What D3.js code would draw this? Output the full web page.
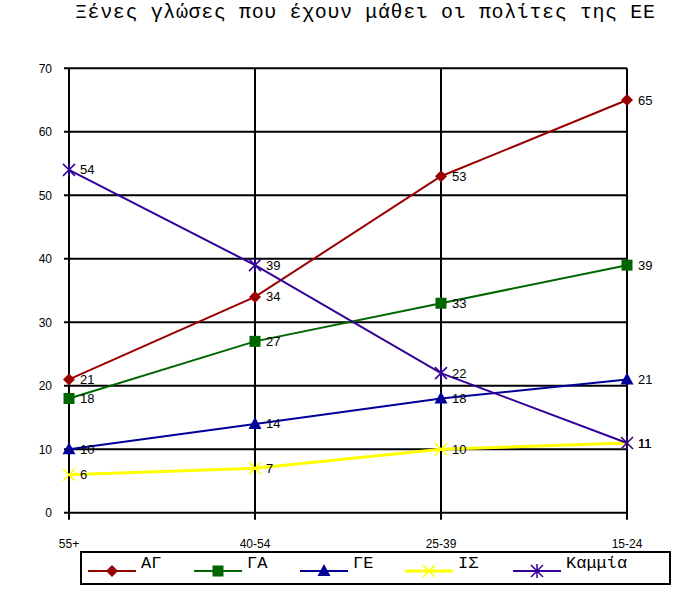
<!DOCTYPE html>
<html><head><meta charset="utf-8">
<script src="https://cdn.jsdelivr.net/npm/d3@7"></script>
<style>body{margin:0;background:#fff}svg{display:block}</style>
</head><body>
<svg id="c" width="692" height="590"></svg>
<script>
const title = "Ξένες γλώσες που έχουν μάθει οι πολίτες της ΕΕ";
const categories = ["55+", "40-54", "25-39", "15-24"];
const seriesNames = ["ΑΓ", "ΓΑ", "ΓΕ", "ΙΣ", "Καμμία"];
const valuesAG = [21, 34, 53, 65];
const valuesGA = [18, 27, 33, 39];
const valuesGE = [10, 14, 18, 21];
const valuesIS = [6, 7, 10, 11];
const valuesNone = [54, 39, 22, 11];
const yTicks = [0, 10, 20, 30, 40, 50, 60, 70];
const colors = ["#990000", "#006600", "#000099", "#FFFF00", "#330099"];
const markers = ["diamond", "square", "triangle", "x", "asterisk"];

const series = [valuesAG, valuesGA, valuesGE, valuesIS, valuesNone].map((v, i) => ({
  name: seriesNames[i], values: v, color: colors[i], marker: markers[i]
}));

const svg = d3.select("#c");
const L = 69, R = 627, T = 68.3, B = 512.8;
const x = d3.scalePoint().domain(categories).range([L, R]).padding(0);
const y = d3.scaleLinear().domain([0, 70]).range([B, T]);

// title
svg.append("text").attr("x", 75).attr("y", 18)
  .attr("font-family", "'Liberation Mono', 'DejaVu Sans Mono', monospace")
  .attr("font-size", 20).attr("textLength", 580).attr("lengthAdjust", "spacing")
  .attr("fill", "#000").text(title);

// horizontal gridlines + ticks
const g = svg.append("g");
g.selectAll("line.h").data(yTicks).join("line")
  .attr("x1", L - 5).attr("x2", R).attr("y1", d => y(d)).attr("y2", d => y(d))
  .attr("stroke", "#000").attr("stroke-width", 2);
// vertical gridlines
g.selectAll("line.v").data(categories).join("line")
  .attr("x1", d => x(d)).attr("x2", d => x(d)).attr("y1", T).attr("y2", B + 7)
  .attr("stroke", "#000").attr("stroke-width", 2);

// y labels
g.selectAll("text.y").data(yTicks).join("text")
  .attr("x", 52).attr("y", d => y(d)).attr("dy", "0.35em")
  .attr("text-anchor", "end").attr("font-family", "'Liberation Sans', Arial, sans-serif")
  .attr("font-size", 12).text(d => d);
// x labels
g.selectAll("text.x").data(categories).join("text")
  .attr("x", d => x(d)).attr("y", 548)
  .attr("text-anchor", "middle").attr("font-family", "'Liberation Sans', Arial, sans-serif")
  .attr("font-size", 12).text(d => d);

function drawMarker(sel, type, color) {
  const s = 6;
  if (type === "diamond") {
    sel.append("path").attr("d", `M0,${-s}L${s},0L0,${s}L${-s},0Z`).attr("fill", color);
  } else if (type === "square") {
    sel.append("rect").attr("x", -5.5).attr("y", -5.5).attr("width", 11).attr("height", 11).attr("fill", color);
  } else if (type === "triangle") {
    sel.append("path").attr("d", `M0,-7L6.5,5L-6.5,5Z`).attr("fill", color);
  } else if (type === "x") {
    sel.append("path").attr("d", `M-6,-6L6,6M6,-6L-6,6`).attr("stroke", color).attr("stroke-width", 1.5);
  } else if (type === "asterisk") {
    sel.append("path").attr("d", `M-6,-6L6,6M6,-6L-6,6M0,-7L0,7`).attr("stroke", color).attr("stroke-width", 1.5);
  }
}

const line = d3.line().x((d, i) => x(categories[i])).y(d => y(d));
series.forEach(s => {
  const sg = svg.append("g");
  sg.append("path").attr("d", line(s.values)).attr("fill", "none")
    .attr("stroke", s.color).attr("stroke-width", s.marker === "x" ? 3 : 2);
  s.values.forEach((v, i) => {
    const m = sg.append("g").attr("transform", `translate(${x(categories[i])},${y(v)})`);
    drawMarker(m, s.marker, s.color);
  });
});
// data labels on top
series.forEach(s => {
  s.values.forEach((v, i) => {
    svg.append("text").attr("x", x(categories[i]) + 11).attr("y", y(v)).attr("dy", "0.35em")
      .attr("font-family", "'Liberation Sans', Arial, sans-serif").attr("font-size", 13)
      .attr("fill", "#000").text(v);
  });
});

// legend
const lg = svg.append("g");
lg.append("rect").attr("x", 81).attr("y", 552).attr("width", 589).attr("height", 32)
  .attr("fill", "#fff").attr("stroke", "#000").attr("stroke-width", 2);
const lx = [88, 194, 300, 405, 513];
series.forEach((s, i) => {
  const item = lg.append("g").attr("transform", `translate(${lx[i]},571)`);
  item.append("line").attr("x1", 0).attr("x2", 48).attr("y1", 0).attr("y2", 0)
    .attr("stroke", s.color).attr("stroke-width", s.marker === "x" ? 3 : 2);
  const m = item.append("g").attr("transform", "translate(24,0)");
  drawMarker(m, s.marker, s.color);
  item.append("text").attr("x", 53).attr("y", -3)
    .attr("font-family", "'Liberation Mono', 'DejaVu Sans Mono', monospace")
    .attr("font-size", 17).text(s.name);
});
</script>
</body></html>
